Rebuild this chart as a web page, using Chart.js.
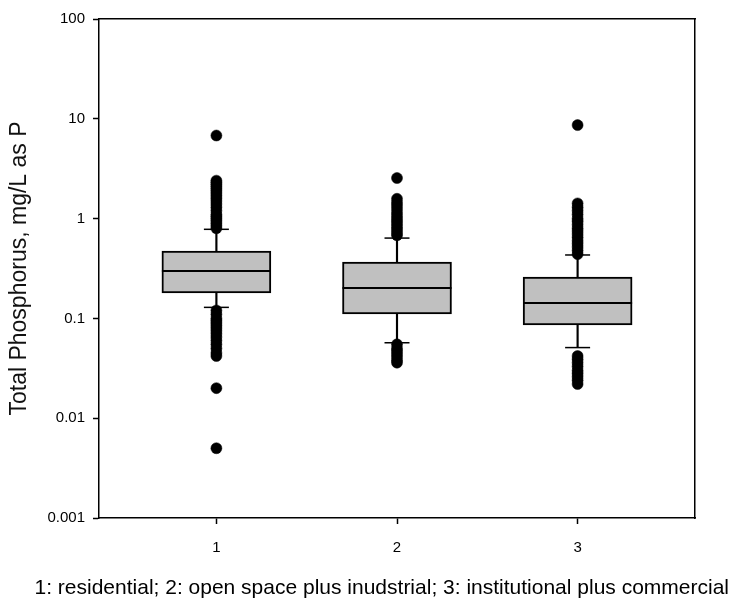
<!DOCTYPE html>
<html>
<head>
<meta charset="utf-8">
<script src="https://cdn.jsdelivr.net/npm/chart.js@4.4.1/dist/chart.umd.min.js"></script>
<style>
    body { margin: 0; background: #ffffff; }
</style>
</head>
<body>
<canvas id="boxChart" width="731" height="603"></canvas>
<script>
// ข้อมูลของกราฟ (อ่านค่าจากรูป)
const groups = [1, 2, 3]; // ตำแหน่งกล่องบนแกน x
const xTicks = [1, 2, 3];
const yTicks = [0.001, 0.01, 0.1, 1, 10, 100];
const lowerWhisker = [0.129, 0.057, 0.051];
const q1 = [0.180, 0.111, 0.086];
const medians = [0.298, 0.202, 0.143];
const q3 = [0.473, 0.367, 0.260];
const upperWhisker = [0.781, 0.638, 0.432];

// ค่า outlier ของแต่ละกลุ่ม
const outliers1 = [0.80, 0.85, 0.9, 0.95, 1.0, 1.05, 1.1, 1.2, 1.3, 1.4, 1.5, 1.6, 1.7, 1.8, 1.9, 2.0, 2.1, 2.2, 2.3, 2.4, 6.8,
    0.12, 0.11, 0.1, 0.095, 0.09, 0.085, 0.08, 0.075, 0.07, 0.065, 0.06, 0.055, 0.05, 0.045, 0.042, 0.02, 0.005];
const outliers2 = [0.68, 0.72, 0.77, 0.82, 0.88, 0.94, 1.0, 1.07, 1.15, 1.25, 1.35, 1.45, 1.58, 2.55,
    0.055, 0.05, 0.047, 0.044, 0.041, 0.038, 0.036];
const outliers3 = [0.44, 0.48, 0.52, 0.56, 0.6, 0.65, 0.7, 0.75, 0.8, 0.87, 0.94, 1.0, 1.1, 1.2, 1.3, 1.42, 8.65,
    0.042, 0.039, 0.036, 0.033, 0.03, 0.028, 0.026, 0.024, 0.022];

const caption = '1: residential; 2: open space plus inudstrial; 3: institutional plus commercial';
const fontFamily = '"Liberation Sans", Arial, sans-serif';

const outlierPoints = [];
[outliers1, outliers2, outliers3].forEach((list, i) => {
    list.forEach(v => outlierPoints.push({ x: groups[i], y: v }));
});

const capPoints = [];
groups.forEach((g, i) => {
    capPoints.push({ x: g, y: lowerWhisker[i] });
    capPoints.push({ x: g, y: upperWhisker[i] });
});

const ctx = document.getElementById('boxChart').getContext('2d');

const boxChart = new Chart(ctx, {
    type: 'bar',
    data: {
        datasets: [
            { // จุด outlier
                type: 'scatter',
                data: outlierPoints,
                xAxisID: 'x', yAxisID: 'y',
                pointRadius: 5.5,
                pointBackgroundColor: '#000000',
                pointBorderColor: '#000000',
                pointBorderWidth: 0.5,
                order: 0
            },
            { // ขีดปลาย whisker
                type: 'scatter',
                data: capPoints,
                xAxisID: 'x', yAxisID: 'y',
                pointStyle: 'line',
                pointRadius: 12.5,
                pointBorderColor: '#000000',
                pointBorderWidth: 1.5,
                order: 1
            },
            { // เส้นมัธยฐาน
                type: 'scatter',
                data: groups.map((g, i) => ({ x: g, y: medians[i] })),
                xAxisID: 'x', yAxisID: 'y',
                pointStyle: 'line',
                pointRadius: 54.5,
                pointBorderColor: '#000000',
                pointBorderWidth: 2,
                order: 2
            },
            { // กล่อง q1 - q3
                data: groups.map((g, i) => ({ x: g, y: [q1[i], q3[i]] })),
                xAxisID: 'x', yAxisID: 'y',
                backgroundColor: '#c0c0c0',
                borderColor: '#000000',
                borderWidth: 2,
                borderSkipped: false,
                barThickness: 109,
                grouped: false,
                order: 3
            },
            { // เส้น whisker แนวตั้ง
                data: groups.map((g, i) => ({ x: g, y: [lowerWhisker[i], upperWhisker[i]] })),
                xAxisID: 'x', yAxisID: 'y',
                backgroundColor: '#000000',
                borderWidth: 0,
                barThickness: 1.5,
                grouped: false,
                order: 4
            }
        ]
    },
    options: {
        responsive: false,
        animation: false,
        devicePixelRatio: 1,
        layout: { autoPadding: false, padding: { left: 0, right: 2, top: 0, bottom: 0 } }, // ปิด autoPadding ไม่ให้ขอบกว้างตามขนาดจุด
        plugins: {
            legend: { display: false },
            tooltip: { enabled: false },
            title: {
                display: true,
                position: 'bottom',
                align: 'end',
                text: caption,
                color: '#000000',
                font: { size: 21, family: fontFamily, weight: 'normal' },
                padding: { top: 17.8, bottom: 2 }
            }
        },
        scales: {
            x: {
                type: 'linear',
                position: 'bottom',
                min: 0.35,
                max: 3.65,
                offset: false,
                afterBuildTicks: s => { s.ticks = xTicks.map(v => ({ value: v })); },
                afterFit: s => { s.height = 40; },
                ticks: { color: '#000000', font: { size: 15, family: fontFamily }, padding: 15, maxRotation: 0, autoSkip: false },
                grid: { drawOnChartArea: false, offset: false, tickLength: 6, tickColor: '#000000', tickWidth: 1.5 },
                border: { color: '#000000', width: 1.5 }
            },
            y: {
                type: 'logarithmic',
                position: 'left',
                min: 0.001,
                max: 100,
                afterBuildTicks: s => { s.ticks = yTicks.map(v => ({ value: v })); },
                afterFit: s => { s.width = 99; },
                ticks: { callback: v => String(v), color: '#000000', font: { size: 15, family: fontFamily }, padding: 8, autoSkip: false },
                grid: { drawOnChartArea: false, tickLength: 6, tickColor: '#000000', tickWidth: 1.5 },
                border: { color: '#000000', width: 1.5 },
                title: {
                    display: true,
                    text: 'Total Phosphorus, mg/L as P',
                    color: '#111111',
                    font: { size: 23, family: fontFamily },
                    padding: { top: 6, bottom: 0 }
                }
            },
            x2: { // เส้นกรอบด้านบน
                type: 'linear',
                position: 'top',
                display: true,
                afterFit: s => { s.height = 19; },
                ticks: { display: false },
                grid: { display: false },
                border: { color: '#000000', width: 1.5 }
            },
            y2: { // เส้นกรอบด้านขวา
                type: 'linear',
                position: 'right',
                display: true,
                afterFit: s => { s.width = 34; },
                ticks: { display: false },
                grid: { display: false },
                border: { color: '#000000', width: 1.5 }
            }
        }
    }
});
</script>
</body>
</html>
